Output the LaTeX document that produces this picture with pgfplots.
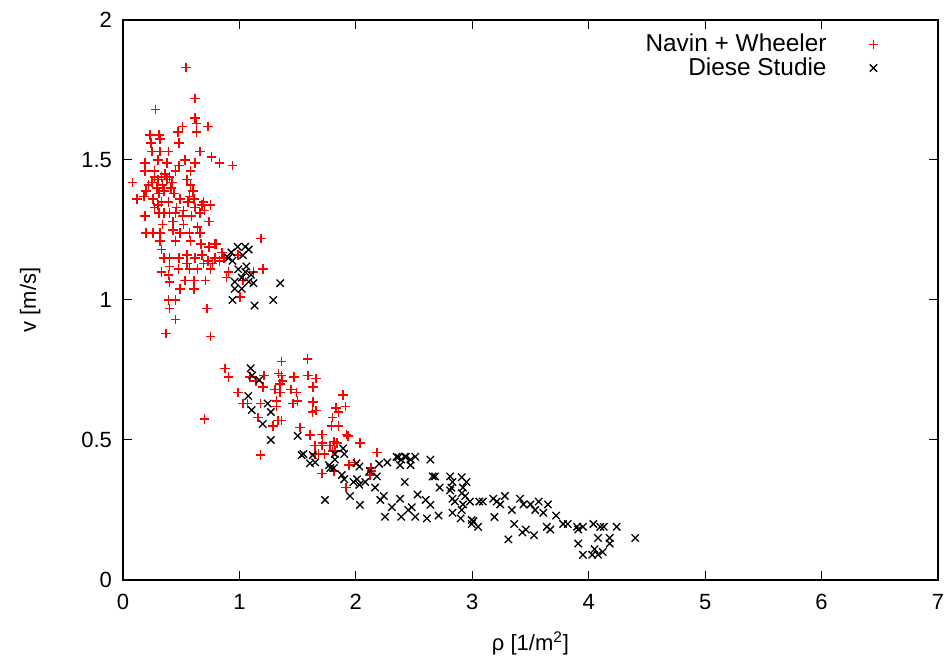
\documentclass[border=0pt]{standalone}
\usepackage{pgfplots}
\pgfplotsset{compat=1.18}
\usepackage{fontspec}
\setmainfont{Liberation Sans}
\begin{document}
\begin{tikzpicture}
\useasboundingbox (-61.5pt,-38pt) rectangle (412pt,290pt);
\begin{axis}[
  scale only axis,
  width=407.5pt, height=280pt,
  xmin=0, xmax=7, ymin=0, ymax=2,
  xtick={0,1,...,7}, ytick={0,0.5,1,1.5,2},
  minor tick num=0,
  tick align=inside,
  major tick length=4.5pt,
  axis line style={line width=0.6pt},
  every tick/.style={line width=0.5pt, black},
  font=\fontsize{11}{13}\selectfont,
  /pgf/number format/assume math mode=true,
  xticklabel style={yshift=-3.5pt},
  yticklabel style={xshift=-2pt},
  xlabel={ρ [1/m\textsuperscript{2}]},
  ylabel={v [m/s]},
  xlabel style={at={(axis description cs:0.5,-0.1125)}, anchor=center},
  ylabel style={at={(axis description cs:-0.114,0.5)}, anchor=center},
  legend plot pos=right,
  legend cell align=right,
  legend style={draw=none, fill=none, at={(axis description cs:0.9345,0.99)}, anchor=north east,
    column sep=19pt, row sep=-2.5pt, font=\fontsize{12.2}{14}\selectfont},
]
\addplot[only marks, mark=+, draw=red, color=red, mark size=2.4pt, mark options={draw=red, line width=0.8pt}] coordinates {
(0.54,1.83)(0.62,1.72)(0.28,1.68)(0.62,1.65)(0.51,1.62)(0.63,1.63)(0.73,1.62)(0.63,1.60)(0.47,1.60)
(0.23,1.59)(0.31,1.59)(0.32,1.575)(0.24,1.56)(0.48,1.56)(0.25,1.53)(0.32,1.53)(0.39,1.53)(0.66,1.53)
(0.76,1.51)(0.83,1.49)(0.94,1.48)(0.19,1.49)(0.30,1.50)(0.38,1.49)(0.53,1.50)(0.62,1.49)(0.48,1.48)
(0.19,1.46)(0.27,1.46)(0.45,1.46)(0.58,1.46)(0.08,1.42)(0.12,1.36)(0.20,1.39)(0.27,1.44)(0.30,1.43)
(0.33,1.44)(0.36,1.45)(0.38,1.43)(0.40,1.44)(0.42,1.42)(0.34,1.41)(0.25,1.42)(0.22,1.41)(0.29,1.40)
(0.31,1.38)(0.35,1.39)(0.41,1.40)(0.44,1.38)(0.55,1.43)(0.58,1.41)(0.60,1.39)(0.61,1.36)(0.57,1.37)
(0.18,1.37)(0.26,1.36)(0.30,1.34)(0.39,1.35)(0.46,1.33)(0.49,1.36)(0.52,1.32)(0.62,1.33)(0.68,1.34)
(0.70,1.32)(0.66,1.31)(0.27,1.33)(0.33,1.35)(0.56,1.35)(0.69,1.35)(0.75,1.34)(0.19,1.30)(0.31,1.31)
(0.35,1.31)(0.40,1.31)(0.45,1.31)(0.51,1.30)(0.59,1.30)(0.34,1.27)(0.43,1.28)(0.52,1.27)(0.64,1.26)
(0.74,1.28)(0.20,1.24)(0.26,1.24)(0.32,1.24)(0.43,1.25)(0.49,1.24)(0.57,1.24)(0.66,1.24)(0.32,1.21)
(0.45,1.21)(0.58,1.21)(0.67,1.20)(0.74,1.19)(0.80,1.20)(0.33,1.18)(0.35,1.15)(0.40,1.15)(0.48,1.15)
(0.55,1.16)(0.62,1.15)(0.68,1.16)(0.73,1.14)(0.79,1.15)(0.55,1.13)(0.69,1.13)(0.77,1.13)(0.83,1.14)
(0.40,1.12)(0.475,1.11)(0.57,1.11)(0.64,1.11)(0.75,1.11)(0.33,1.10)(0.39,1.09)(0.53,1.07)(0.61,1.07)
(0.71,1.07)(0.40,1.065)(0.49,1.04)(0.61,1.04)(0.905,1.10)(0.89,1.08)(0.39,1.00)(0.45,1.00)(0.40,0.97)
(0.45,0.93)(0.72,0.97)(0.37,0.88)(0.75,0.87)(1.185,1.22)(1.205,1.11)(1.12,1.10)(1.03,1.07)(1.005,1.01)
(0.99,1.16)(0.79,1.20)(0.85,1.17)(0.87,1.15)
(0.876,0.756)(0.905,0.726)(1.363,0.78)(1.586,0.79)(1.334,0.738)(1.36,0.73)(1.469,0.726)(1.59,0.73)
(1.66,0.72)(1.21,0.73)(0.99,0.67)(1.03,0.63)(1.07,0.63)(1.18,0.63)(1.205,0.69)(1.305,0.68)(1.35,0.67)
(1.35,0.70)(1.37,0.71)(1.443,0.68)(1.49,0.67)(1.50,0.64)(1.46,0.63)(1.63,0.69)(1.63,0.635)(1.626,0.60)
(1.66,0.605)(1.32,0.64)(1.32,0.62)(1.16,0.58)(1.36,0.57)(1.33,0.57)(1.286,0.55)(0.70,0.575)(1.52,0.544)
(1.89,0.66)(1.83,0.615)(1.85,0.60)(1.91,0.62)(1.80,0.58)(1.79,0.55)(1.85,0.55)(1.606,0.518)(1.715,0.49)
(1.65,0.45)(1.68,0.45)(1.73,0.45)(1.80,0.46)(1.18,0.446)(1.92,0.52)(1.84,0.49)(1.935,0.514)(2.035,0.49)
(2.18,0.456)(1.81,0.494)(1.82,0.46)(1.99,0.42)(1.94,0.41)(1.81,0.39)(2.136,0.39)(2.12,0.375)(1.915,0.33)
(1.61,0.52)(1.71,0.52)(1.65,0.48)(1.71,0.48)(1.78,0.48)(1.71,0.38)(2.13,0.40)(1.09,0.726)(1.14,0.71)
};
\addlegendentry{Navin + Wheeler}
\addplot[only marks, mark=x, color=black, mark size=2.6pt, mark options={draw=black, line width=0.65pt}] coordinates {
(0.985,1.19)(1.05,1.19)(1.08,1.18)(1.03,1.16)(0.905,1.15)(0.94,1.14)(1.05,1.10)(1.02,1.08)(0.96,1.065)
(1.08,1.065)(1.12,1.06)(1.02,1.04)(0.96,1.04)(0.94,1.00)(1.13,0.98)(1.29,1.00)(1.35,1.06)(0.99,1.11)
(1.06,1.12)(0.93,1.17)(1.10,1.09)
(1.097,0.756)(1.11,0.73)(1.17,0.714)(1.076,0.657)(1.105,0.607)(1.243,0.63)(1.27,0.60)(1.20,0.557)
(1.27,0.50)(1.50,0.515)(1.535,0.446)(1.63,0.446)(1.606,0.417)(1.77,0.41)(1.82,0.45)(1.89,0.47)(1.81,0.40)
(1.735,0.286)(1.82,0.43)(1.90,0.45)(1.78,0.40)(1.88,0.375)(1.90,0.36)(2.006,0.417)(2.03,0.405)(1.98,0.35)
(2.03,0.34)(2.08,0.35)(1.95,0.30)(2.035,0.268)(2.165,0.33)(2.21,0.286)(2.24,0.30)(2.12,0.39)(2.18,0.37)
(2.20,0.415)(2.27,0.42)(2.35,0.44)(2.39,0.43)(2.43,0.44)(2.47,0.43)(2.38,0.41)(2.47,0.41)(2.64,0.43)
(2.42,0.35)(2.66,0.37)(2.38,0.29)(2.31,0.26)(2.25,0.226)(2.39,0.226)(2.48,0.26)(2.45,0.25)(2.51,0.226)
(2.53,0.305)(2.60,0.286)(2.64,0.268)(2.61,0.22)(2.71,0.23)(2.72,0.33)(2.81,0.37)(2.83,0.35)(2.81,0.32)
(2.83,0.29)(2.90,0.22)(2.92,0.27)(2.91,0.367)(2.95,0.35)(2.82,0.33)(2.92,0.33)(2.91,0.31)(2.94,0.30)
(2.98,0.28)(2.85,0.28)(2.91,0.25)(2.83,0.24)(2.995,0.214)(3.01,0.21)(2.995,0.20)(3.05,0.19)(3.06,0.28)
(3.09,0.28)(3.18,0.29)(3.21,0.28)(3.28,0.30)(3.24,0.27)(3.19,0.225)(3.34,0.25)(3.31,0.145)(3.36,0.20)
(3.43,0.17)(3.46,0.18)(3.53,0.16)(3.41,0.29)(3.44,0.27)(3.50,0.27)(3.57,0.28)(3.54,0.25)(3.61,0.24)
(3.65,0.27)(3.64,0.19)(3.67,0.18)(3.72,0.23)(3.78,0.20)(3.82,0.20)(3.90,0.19)(3.91,0.18)(4.04,0.20)
(4.13,0.19)(4.08,0.15)(4.18,0.13)(3.91,0.13)(3.95,0.09)(4.03,0.09)(4.08,0.09)(4.05,0.11)(4.40,0.15)
(4.10,0.19)(4.24,0.19)(4.18,0.15)(4.12,0.10)(3.95,0.19)(1.55,0.45)(1.65,0.42)(2.01,0.36)(2.365,0.438)
(2.42,0.44)(2.51,0.44)(2.68,0.37)
};
\addlegendentry{Diese Studie}
\end{axis}
\end{tikzpicture}
\end{document}
